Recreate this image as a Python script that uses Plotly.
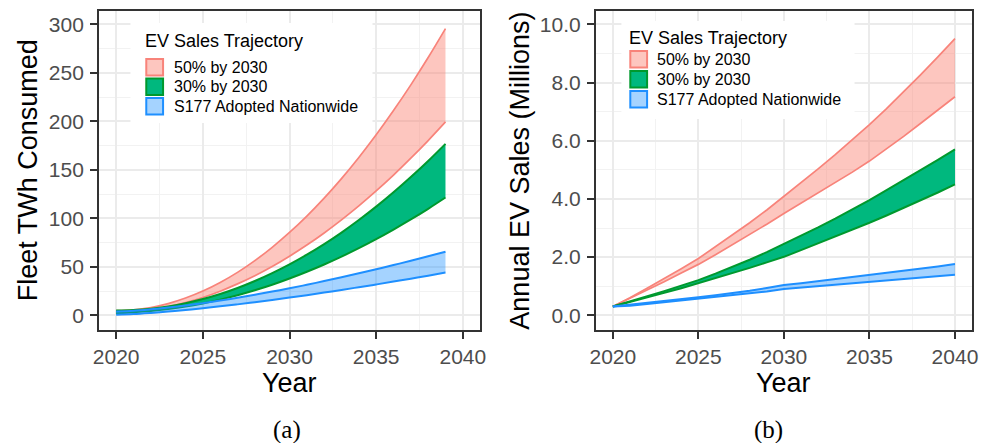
import plotly.graph_objects as go

# ---------------- data ----------------
years_a = list(range(2020, 2040))
years_b = list(range(2020, 2041))

# Panel (a): Fleet TWh consumed (upper / lower bounds)
twh_50_upper = [5, 5.8, 8.2, 12.2, 17.9, 25.1, 34.0, 44.4, 56.5, 70.2, 85.5, 102.4, 120.9, 141.0, 162.8, 186.1, 211.1, 237.6, 265.8, 295.6]
twh_50_lower = [2, 3.7, 5.7, 8.9, 13.2, 18.5, 25.0, 32.5, 40.9, 50.4, 61, 72.5, 85, 98.5, 112.9, 128.3, 144.6, 162, 180.2, 199.4]
twh_30_upper = [5, 5.5, 6.9, 9.3, 12.6, 16.9, 22.1, 28.3, 35.5, 43.6, 52.6, 62.6, 73.5, 85.4, 98.3, 112.1, 126.9, 142.6, 159.2, 176.8]
twh_30_lower = [2, 3.4, 4.7, 6.6, 9.1, 12.4, 16.3, 20.8, 25.9, 31.6, 38, 45, 52.5, 60.6, 69.3, 78.6, 88.5, 98.9, 109.9, 121.5]
twh_s177_upper = [4, 4.8, 6.3, 8.1, 10.2, 12.7, 15.3, 18.2, 21.3, 24.6, 28, 31.6, 35.4, 39.3, 43.4, 47.6, 51.9, 56.3, 61.0, 65.7]
twh_s177_lower = [0.7, 1.4, 2.6, 4.0, 5.6, 7.4, 9.4, 11.4, 13.7, 16.0, 18.4, 20.9, 23.6, 26.3, 29.1, 31.9, 34.9, 37.9, 41.0, 44.2]

# Panel (b): Annual EV sales, millions (upper / lower bounds)
sales_50_upper = [0.3, 0.6, 0.93, 1.26, 1.6, 1.95, 2.35, 2.75, 3.18, 3.62, 4.08, 4.55, 5.03, 5.52, 6.03, 6.55, 7.1, 7.68, 8.27, 8.88, 9.51]
sales_50_lower = [0.3, 0.58, 0.87, 1.15, 1.45, 1.75, 2.08, 2.42, 2.77, 3.13, 3.5, 3.85, 4.2, 4.56, 4.92, 5.3, 5.72, 6.15, 6.6, 7.05, 7.51]
sales_30_upper = [0.3, 0.47, 0.65, 0.83, 1.02, 1.21, 1.43, 1.66, 1.91, 2.17, 2.45, 2.73, 3.02, 3.32, 3.63, 3.96, 4.3, 4.64, 4.98, 5.34, 5.70]
sales_30_lower = [0.3, 0.45, 0.61, 0.77, 0.93, 1.10, 1.27, 1.45, 1.63, 1.82, 2.01, 2.24, 2.47, 2.71, 2.95, 3.18, 3.43, 3.69, 3.95, 4.22, 4.50]
sales_s177_upper = [0.3, 0.36, 0.42, 0.49, 0.55, 0.62, 0.69, 0.76, 0.84, 0.94, 1.04, 1.1, 1.17, 1.24, 1.32, 1.4, 1.47, 1.54, 1.61, 1.68, 1.76]
sales_s177_lower = [0.3, 0.33, 0.39, 0.45, 0.51, 0.57, 0.63, 0.69, 0.75, 0.82, 0.90, 0.95, 1.0, 1.05, 1.10, 1.15, 1.2, 1.25, 1.3, 1.34, 1.39]

scenario_names = ["50% by 2030", "30% by 2030", "S177 Adopted Nationwide"]
legend_title = "EV Sales Trajectory"

# ---------------- styles ----------------
W, H = 985, 443
line_colors = ["#F8837A", "#00992E", "#1E8FFF"]
fill_colors = ["rgba(250,128,114,0.45)", "#00B87E", "rgba(30,144,255,0.40)"]
key_fill = ["#FDC6BF", "#00B87E", "#A5D3FF"]
line_widths = [1.7, 2.0, 2.0]
FONT = "Liberation Sans, Arial, sans-serif"


def px(x):
    return x / W


def py(y):
    return 1 - y / H


fig = go.Figure()

panel_a = [(twh_50_lower, twh_50_upper), (twh_30_lower, twh_30_upper), (twh_s177_lower, twh_s177_upper)]
panel_b = [(sales_50_lower, sales_50_upper), (sales_30_lower, sales_30_upper), (sales_s177_lower, sales_s177_upper)]

for xa, ya, years, data, shape in [("x", "y", years_a, panel_a, "spline"), ("x2", "y2", years_b, panel_b, "linear")]:
    for i, (lo, hi) in enumerate(data):
        fig.add_trace(go.Scatter(x=years, y=lo, mode="lines", xaxis=xa, yaxis=ya,
                                 line=dict(color=line_colors[i], width=line_widths[i], shape=shape),
                                 showlegend=False, hoverinfo="skip"))
        fig.add_trace(go.Scatter(x=years, y=hi, mode="lines", xaxis=xa, yaxis=ya, fill="tonexty",
                                 fillcolor=fill_colors[i],
                                 line=dict(color=line_colors[i], width=line_widths[i], shape=shape),
                                 name=scenario_names[i], showlegend=False, hoverinfo="skip"))

grid_major = "#EBEBEB"
grid_minor = "#F2F2F2"
minor_style = dict(showgrid=True, gridcolor=grid_minor, gridwidth=1.1, ticks="")
axis_common = dict(showline=True, linecolor="#333333", linewidth=1.6, mirror=True,
                   ticks="outside", ticklen=7, tickcolor="#333333", tickwidth=1.6,
                   showgrid=True, gridcolor=grid_major, gridwidth=2, zeroline=False,
                   tickfont=dict(family=FONT, size=21, color="#4D4D4D"))

# panel pixel boxes
A = dict(l=94, r=480, t=11, b=330)
B = dict(l=597, r=978, t=11, b=330)

fig.update_layout(
    width=W, height=H, margin=dict(l=0, r=0, t=0, b=0),
    paper_bgcolor="white", plot_bgcolor="white", showlegend=False,
    xaxis=dict(domain=[px(A["l"]), px(A["r"])], range=[2019, 2041], tickvals=[2020, 2025, 2030, 2035, 2040],
               minor=dict(tickvals=[2022.5, 2027.5, 2032.5, 2037.5], **minor_style),
               ticklabelstandoff=0, anchor="y", **axis_common),
    yaxis=dict(domain=[py(A["b"]), py(A["t"])], range=[-15, 313.7], tickvals=[0, 50, 100, 150, 200, 250, 300],
               minor=dict(tickvals=[25, 75, 125, 175, 225, 275], **minor_style),
               ticklabelstandoff=2, anchor="x", **axis_common),
    xaxis2=dict(domain=[px(B["l"]), px(B["r"])], range=[2019, 2041], tickvals=[2020, 2025, 2030, 2035, 2040],
                minor=dict(tickvals=[2022.5, 2027.5, 2032.5, 2037.5], **minor_style),
                ticklabelstandoff=0, anchor="y2", **axis_common),
    yaxis2=dict(domain=[py(B["b"]), py(B["t"])], range=[-0.505, 10.457], tickvals=[0, 2, 4, 6, 8, 10], tickformat=".1f",
                minor=dict(tickvals=[1, 3, 5, 7, 9], **minor_style),
                ticklabelstandoff=2, anchor="x2", **axis_common),
)

shapes = []
annotations = []

# axis titles and captions
title_font = dict(family=FONT, size=27, color="black")
annotations += [
    dict(text="Year", x=px((A["l"] + A["r"]) / 2), y=py(383), xref="paper", yref="paper",
         showarrow=False, font=title_font, xanchor="center", yanchor="middle"),
    dict(text="Year", x=px((B["l"] + B["r"]) / 2), y=py(383), xref="paper", yref="paper",
         showarrow=False, font=title_font, xanchor="center", yanchor="middle"),
    dict(text="Fleet TWh Consumed", x=px(23), y=py(170.5), xref="paper", yref="paper", textangle=-90,
         showarrow=False, font=title_font, xanchor="center", yanchor="middle"),
    dict(text="Annual EV Sales (Millions)", x=px(520), y=py(171), xref="paper", yref="paper", textangle=-90,
         showarrow=False, font=title_font, xanchor="center", yanchor="middle"),
    dict(text="(a)", x=px(284), y=py(430), xref="paper", yref="paper", showarrow=False,
         font=dict(family="Liberation Serif, Times New Roman, serif", size=25, color="black"),
         xanchor="center", yanchor="middle"),
    dict(text="(b)", x=px(772), y=py(430), xref="paper", yref="paper", showarrow=False,
         font=dict(family="Liberation Serif, Times New Roman, serif", size=25, color="black"),
         xanchor="center", yanchor="middle"),
]

# manual legends (drawn inside each panel)
legends = [
    dict(box=(126, 23, 371, 123), title_xy=(139, 41), key_x=141, key_tops=[58, 77.5, 97], text_x=168),
    dict(box=(623, 21, 859, 119), title_xy=(629, 37.7), key_x=631, key_tops=[50, 70, 90], text_x=657),
]
for lg in legends:
    x0, y0, x1, y1 = lg["box"]
    shapes.append(dict(type="rect", xref="paper", yref="paper", x0=px(x0), x1=px(x1), y0=py(y1), y1=py(y0),
                       fillcolor="white", line=dict(width=0), layer="above"))
    annotations.append(dict(text=legend_title, x=px(lg["title_xy"][0]), y=py(lg["title_xy"][1]),
                            xref="paper", yref="paper", showarrow=False, xanchor="left", yanchor="middle",
                            font=dict(family=FONT, size=18, color="black")))
    for i, top in enumerate(lg["key_tops"]):
        shapes.append(dict(type="rect", xref="paper", yref="paper",
                           x0=px(lg["key_x"] + 1), x1=px(lg["key_x"] + 18), y0=py(top + 17.5), y1=py(top + 1),
                           fillcolor=key_fill[i], line=dict(color=line_colors[i], width=2), layer="above"))
        annotations.append(dict(text=scenario_names[i], x=px(lg["text_x"]), y=py(top + 9.3),
                                xref="paper", yref="paper", showarrow=False, xanchor="left", yanchor="middle",
                                font=dict(family=FONT, size=16, color="black")))

fig.update_layout(shapes=shapes, annotations=annotations)
fig.write_html("out.html")
